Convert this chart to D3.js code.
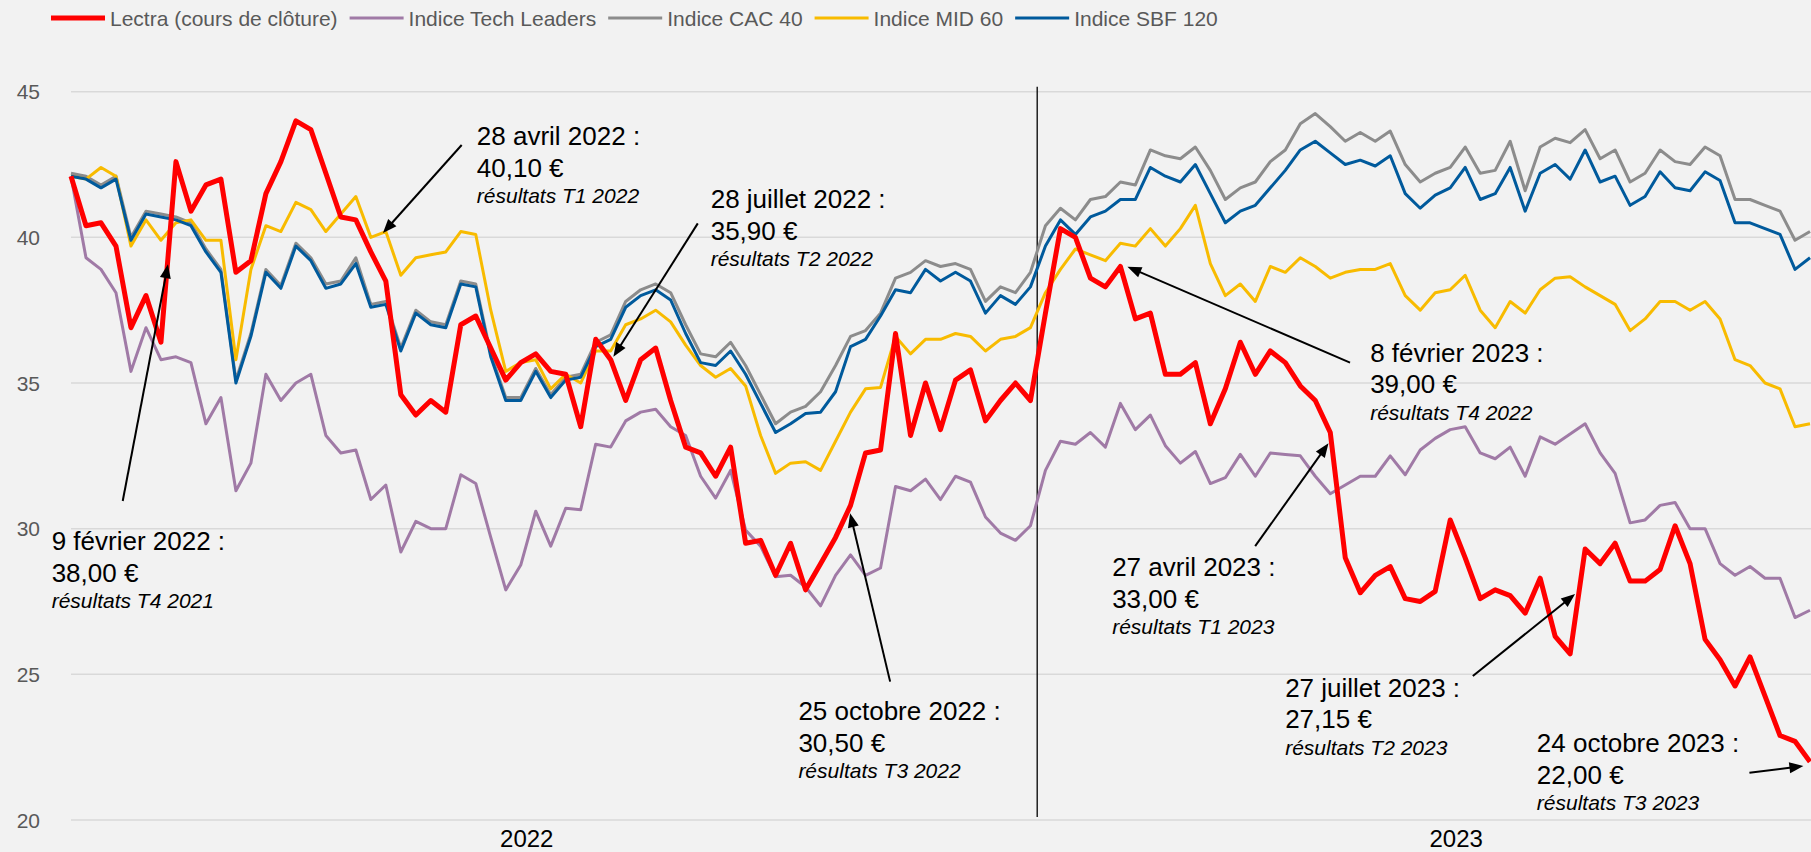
<!DOCTYPE html>
<html>
<head>
<meta charset="utf-8">
<script src="https://cdn.jsdelivr.net/npm/d3@7"></script>
<style>
  body { margin: 0; background: #f2f2f2; }
  svg text { font-family: "Liberation Sans", Arial, sans-serif; }
</style>
</head>
<body>
<script>
// one value every ~4 trading days, jan 2022 -> end oct 2023
var lectra = [
  42.1, 40.4, 40.5, 39.7, 36.9, 38.0, 36.4, 42.6, 40.9, 41.8,
  42.0, 38.8, 39.2, 41.5, 42.6, 44.0, 43.7, 42.2, 40.7, 40.6,
  39.5, 38.5, 34.6, 33.9, 34.4, 34.0, 37.0, 37.3, 36.2, 35.1,
  35.7, 36.0, 35.4, 35.3, 33.5, 36.5, 35.8, 34.4, 35.8, 36.2,
  34.4, 32.8, 32.6, 31.8, 32.8, 29.5, 29.6, 28.4, 29.5, 27.9,
  28.8, 29.7, 30.8, 32.6, 32.7, 36.7, 33.2, 35.0, 33.4, 35.1,
  35.45, 33.7, 34.4, 35.0, 34.4, 37.4, 40.3, 40.0, 38.6, 38.3,
  39.0, 37.2, 37.4, 35.3, 35.3, 35.7, 33.6, 34.8, 36.4, 35.3,
  36.1, 35.7, 34.9, 34.4, 33.3, 29.0, 27.8, 28.4, 28.7, 27.6,
  27.5, 27.85, 30.3, 29.0, 27.6, 27.9, 27.7, 27.1, 28.3, 26.3,
  25.7, 29.3, 28.8, 29.5, 28.2, 28.2, 28.6, 30.1, 28.8, 26.2,
  25.5, 24.6, 25.6, 24.25, 22.9, 22.7, 22.0];

var techLeaders = [
  42.1, 39.3, 38.9, 38.1, 35.4, 36.9, 35.8, 35.9, 35.7, 33.6,
  34.5, 31.3, 32.25, 35.3, 34.4, 35.0, 35.3, 33.2, 32.6, 32.7,
  31.0, 31.5, 29.2, 30.25, 30.0, 30.0, 31.85, 31.55, 29.7, 27.9,
  28.75, 30.6, 29.4, 30.7, 30.65, 32.9, 32.8, 33.7, 34.0, 34.1,
  33.5, 33.2, 31.8, 31.05, 32.0, 29.95, 29.4, 28.35, 28.4, 28.0,
  27.35, 28.4, 29.1, 28.4, 28.65, 31.45, 31.3, 31.7, 31.0, 31.8,
  31.6, 30.4, 29.85, 29.6, 30.1, 32.0, 33.0, 32.9, 33.3, 32.8,
  34.3, 33.4, 33.9, 32.85, 32.25, 32.65, 31.55, 31.75, 32.55, 31.8,
  32.6, 32.55, 32.5, 31.8, 31.2, 31.5, 31.8, 31.8, 32.5, 31.85,
  32.7, 33.1, 33.4, 33.5, 32.6, 32.4, 32.8, 31.8, 33.15, 32.9,
  33.25, 33.6, 32.6, 31.9, 30.2, 30.3, 30.8, 30.9, 30.0, 30.0,
  28.8, 28.4, 28.7, 28.3, 28.3, 26.95, 27.2];

var cac40 = [
  42.2, 42.1, 41.8, 42.1, 40.0, 40.9, 40.8, 40.7, 40.5, 39.6,
  38.9, 35.1, 36.7, 38.9, 38.35, 39.8, 39.3, 38.4, 38.5, 39.3,
  37.7, 37.8, 36.2, 37.5, 37.1, 37.0, 38.5, 38.4, 36.0, 34.5,
  34.5, 35.5, 34.6, 35.2, 35.3, 36.4, 36.65, 37.8, 38.2, 38.4,
  38.1, 37.0, 36.0, 35.9, 36.4, 35.6, 34.6, 33.6, 34.0, 34.2,
  34.7, 35.6, 36.6, 36.8, 37.4, 38.6, 38.8, 39.2, 39.0, 39.1,
  38.9, 37.8, 38.3, 38.1, 38.8, 40.4, 41.0, 40.6, 41.3, 41.4,
  41.9, 41.8, 43.0, 42.8, 42.7, 43.1, 42.3, 41.3, 41.7, 41.9,
  42.6, 43.0, 43.9, 44.25, 43.8, 43.3, 43.6, 43.3, 43.65, 42.5,
  41.9, 42.2, 42.4, 43.1, 42.2, 42.3, 43.3, 41.6, 43.1, 43.4,
  43.25, 43.7, 42.7, 43.0, 41.9, 42.2, 43.0, 42.6, 42.5, 43.1,
  42.8, 41.3, 41.3, 41.1, 40.9, 39.9, 40.2];

var mid60 = [
  42.1, 42.0, 42.4, 42.1, 39.7, 40.6, 39.9, 40.5, 40.6, 39.9,
  39.9, 35.8, 38.9, 40.4, 40.2, 41.2, 40.95, 40.2, 40.8, 41.4,
  40.0, 40.2, 38.7, 39.3, 39.4, 39.5, 40.2, 40.1, 37.5, 35.4,
  35.7, 35.8, 34.8, 35.3, 35.0, 36.1, 36.1, 37.0, 37.2, 37.5,
  37.1, 36.3, 35.6, 35.2, 35.5, 34.9, 33.2, 31.9, 32.25, 32.3,
  32.0, 33.0, 34.0, 34.8, 34.85, 36.6, 36.0, 36.5, 36.5, 36.7,
  36.6, 36.1, 36.5, 36.6, 36.9, 38.1, 38.9, 39.6, 39.4, 39.2,
  39.8, 39.7, 40.3, 39.7, 40.3, 41.1, 39.1, 38.0, 38.4, 37.8,
  39.0, 38.8, 39.3, 39.0, 38.6, 38.8, 38.9, 38.9, 39.1, 38.0,
  37.5, 38.1, 38.2, 38.7, 37.5, 36.9, 37.8, 37.4, 38.2, 38.6,
  38.65, 38.3, 38.0, 37.7, 36.8, 37.2, 37.8, 37.8, 37.5, 37.8,
  37.2, 35.8, 35.6, 35.0, 34.8, 33.5, 33.6];

var sbf120 = [
  42.1, 42.0, 41.7, 42.0, 39.9, 40.8, 40.7, 40.6, 40.4, 39.5,
  38.8, 35.0, 36.6, 38.8, 38.25, 39.7, 39.2, 38.25, 38.4, 39.1,
  37.6, 37.7, 36.1, 37.4, 37.0, 36.9, 38.4, 38.3, 35.9, 34.4,
  34.4, 35.4, 34.5, 35.1, 35.2, 36.25, 36.5, 37.6, 38.0, 38.2,
  37.85, 36.7, 35.7, 35.6, 36.1, 35.3, 34.3, 33.3, 33.6, 33.95,
  34.0, 34.7, 36.25, 36.5, 37.3, 38.2, 38.1, 38.9, 38.5, 38.8,
  38.5, 37.4, 38.0, 37.7, 38.3, 39.7, 40.6, 40.1, 40.7, 40.9,
  41.3, 41.3, 42.4, 42.1, 41.9, 42.5, 41.5, 40.5, 40.9, 41.1,
  41.7, 42.3, 43.0, 43.3, 42.9, 42.5, 42.65, 42.45, 42.8, 41.5,
  41.0, 41.45, 41.7, 42.4, 41.3, 41.5, 42.4, 40.9, 42.2, 42.5,
  42.0, 43.0, 41.9, 42.1, 41.1, 41.4, 42.25, 41.7, 41.6, 42.25,
  41.95, 40.5, 40.5, 40.3, 40.1, 38.9, 39.3];

var yTicks = [20, 25, 30, 35, 40, 45];
var years = ["2022", "2023"];

// annotations: where the text sits, where the arrow starts and where it points (index, price)
var notes = [
  {date: "9 février 2022 :", price: "38,00 €", quarter: "résultats T4 2021", t: [-1.29, 29.27], a: [3.45, 30.95], b: [6.47, 39.08]},
  {date: "28 avril 2022 :", price: "40,10 €", quarter: "résultats T1 2022", t: [27.07, 43.17], a: [26.06, 43.17], b: [20.81, 40.15]},
  {date: "28 juillet 2022 :", price: "35,90 €", quarter: "résultats T2 2022", t: [42.67, 41.0], a: [41.81, 40.48], b: [36.18, 35.9]},
  {date: "25 octobre 2022 :", price: "30,50 €", quarter: "résultats T3 2022", t: [48.52, 23.43], a: [54.64, 24.75], b: [51.97, 30.53]},
  {date: "8 février 2023 :", price: "39,00 €", quarter: "résultats T4 2022", t: [86.66, 35.73], a: [85.32, 35.70], b: [70.47, 38.99]},
  {date: "27 avril 2023 :", price: "33,00 €", quarter: "résultats T1 2023", t: [69.45, 28.37], a: [78.99, 29.40], b: [83.88, 32.93]},
  {date: "27 juillet 2023 :", price: "27,15 €", quarter: "résultats T2 2023", t: [80.99, 24.23], a: [93.51, 24.94], b: [100.33, 27.76]},
  {date: "24 octobre 2023 :", price: "22,00 €", quarter: "résultats T3 2023", t: [97.78, 22.34], a: [111.96, 21.62], b: [115.56, 21.85]}
];

var series = [
  {name: "Lectra (cours de clôture)", values: lectra, color: "#ff0000", w: 5},
  {name: "Indice Tech Leaders", values: techLeaders, color: "#a07aa6", w: 3},
  {name: "Indice CAC 40", values: cac40, color: "#8c8c8c", w: 3},
  {name: "Indice MID 60", values: mid60, color: "#f8bb00", w: 3},
  {name: "Indice SBF 120", values: sbf120, color: "#005a9c", w: 3}
];

var width = 1811, height = 852;
var yearBreak = 64.45; // between last 2022 point and first 2023 point

var svg = d3.select("body").append("svg")
    .attr("width", width)
    .attr("height", height);

svg.append("rect").attr("width", width).attr("height", height).attr("fill", "#f2f2f2");

var x = d3.scaleLinear().domain([0, lectra.length - 1]).range([71, 1810]);
var y = d3.scaleLinear().domain([20, 45]).range([820, 91.7]);

// gridlines + y labels
svg.selectAll(".grid")
    .data(yTicks)
    .enter().append("line")
    .attr("class", "grid")
    .attr("x1", 71).attr("x2", width)
    .attr("y1", function(d) { return y(d); })
    .attr("y2", function(d) { return y(d); })
    .style("stroke", "#d9d9d9")
    .style("stroke-width", 1.5);

svg.selectAll(".yLabel")
    .data(yTicks)
    .enter().append("text")
    .attr("class", "yLabel")
    .attr("x", 40)
    .attr("y", function(d) { return y(d); })
    .attr("dy", "0.36em")
    .style("text-anchor", "end")
    .style("font-size", "21px")
    .style("fill", "#595959")
    .text(function(d) { return d; });

// year separator
svg.append("line")
    .attr("x1", x(yearBreak)).attr("x2", x(yearBreak))
    .attr("y1", y(45) - 5).attr("y2", y(20) - 3)
    .style("stroke", "#000")
    .style("stroke-width", 1.3);

svg.selectAll(".xLabel")
    .data(years)
    .enter().append("text")
    .attr("class", "xLabel")
    .attr("x", function(d, i) { return x(i == 0 ? 30.4 : 92.4); })
    .attr("y", 847)
    .style("text-anchor", "middle")
    .style("font-size", "24px")
    .style("fill", "#000")
    .text(function(d) { return d; });

var line = d3.line()
    .x(function(d, i) { return x(i); })
    .y(function(d) { return y(d); });

// draw order: indices first, Lectra on top
var drawOrder = [1, 2, 3, 4, 0];
drawOrder.forEach(function(k) {
  var s = series[k];
  svg.append("path")
      .datum(s.values)
      .attr("d", line)
      .style("fill", "none")
      .style("stroke", s.color)
      .style("stroke-width", s.w)
      .style("stroke-linejoin", "round");
});

// legend
var lx = 51;
series.forEach(function(s) {
  svg.append("line")
      .attr("x1", lx).attr("x2", lx + 54)
      .attr("y1", 18).attr("y2", 18)
      .style("stroke", s.color)
      .style("stroke-width", s.w);
  var t = svg.append("text")
      .attr("x", lx + 59)
      .attr("y", 18)
      .attr("dy", "0.36em")
      .style("font-size", "21px")
      .style("fill", "#595959")
      .text(s.name);
  lx = lx + 59 + t.node().getComputedTextLength() + 12;
});

// annotations
notes.forEach(function(n) {
  var x0 = x(n.a[0]), y0 = y(n.a[1]);
  var x1 = x(n.b[0]), y1 = y(n.b[1]);
  var ang = Math.atan2(y1 - y0, x1 - x0);
  var len = 14, half = 5.5;
  var bx = x1 - len * Math.cos(ang), by = y1 - len * Math.sin(ang);

  svg.append("line")
      .attr("x1", x0).attr("y1", y0)
      .attr("x2", x1 - 8 * Math.cos(ang)).attr("y2", y1 - 8 * Math.sin(ang))
      .style("stroke", "#000")
      .style("stroke-width", 2);

  svg.append("path")
      .attr("d", "M" + x1 + "," + y1 +
                 "L" + (bx + half * Math.sin(ang)) + "," + (by - half * Math.cos(ang)) +
                 "L" + (bx - half * Math.sin(ang)) + "," + (by + half * Math.cos(ang)) + "Z")
      .style("fill", "#000");

  var tx = x(n.t[0]), ty = y(n.t[1]);
  svg.append("text").attr("x", tx).attr("y", ty)
      .style("font-size", "26px").style("fill", "#000").text(n.date);
  svg.append("text").attr("x", tx).attr("y", ty + 31.7)
      .style("font-size", "26px").style("fill", "#000").text(n.price);
  svg.append("text").attr("x", tx).attr("y", ty + 58)
      .style("font-size", "21px").style("font-style", "italic").style("fill", "#000").text(n.quarter);
});
</script>
</body>
</html>
